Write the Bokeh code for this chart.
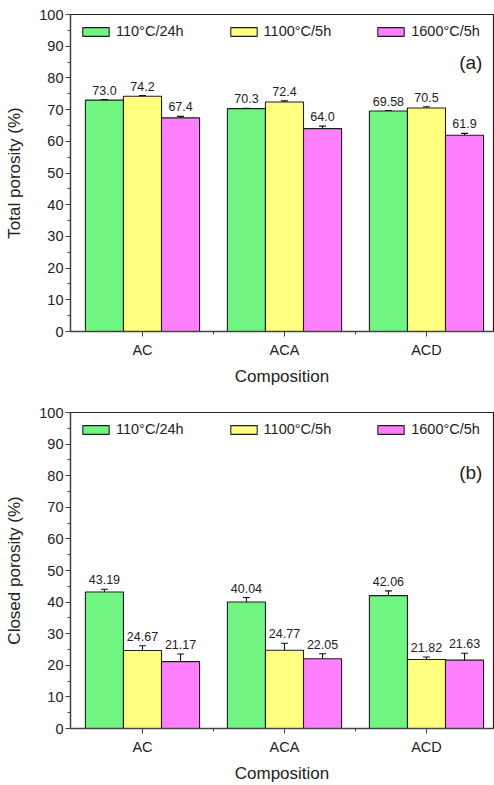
from bokeh.plotting import figure
from bokeh.models import ColumnDataSource, Whisker, TeeHead, FixedTicker, Label, Legend, LegendItem
from bokeh.layouts import column
from bokeh.embed import file_html
from bokeh.resources import INLINE
from bokeh.core.properties import value

categories = ["AC", "ACA", "ACD"]
series = ["110°C/24h", "1100°C/5h", "1600°C/5h"]
colors = ["#70F582", "#FFFF80", "#FF80FF"]

total_110 = [73.0, 70.3, 69.58]
total_1100 = [74.2, 72.4, 70.5]
total_1600 = [67.4, 64.0, 61.9]
total_err_110 = [0.15, 0.12, 0.12]
total_err_1100 = [0.2, 0.35, 0.4]
total_err_1600 = [0.45, 0.8, 0.6]

closed_110 = [43.19, 40.04, 42.06]
closed_1100 = [24.67, 24.77, 21.82]
closed_1600 = [21.17, 22.05, 21.63]
closed_err_110 = [0.9, 1.4, 1.5]
closed_err_1100 = [1.5, 2.2, 0.8]
closed_err_1600 = [2.4, 1.6, 2.2]

FONT = "Liberation Sans"
BAR_W = 0.268
OFFSETS = [-BAR_W, 0.0, BAR_W]


def make_fig(ylabel, vals, errs, panel, panel_y, height, btop, bbottom):
    p = figure(width=494, height=height, output_backend="svg", toolbar_location=None,
               x_range=(0.493, 3.472), y_range=(0, 100),
               min_border_left=70, min_border_right=1, min_border_top=btop,
               min_border_bottom=bbottom)
    p.grid.visible = False
    p.outline_line_color = "#222222"
    p.outline_line_width = 1.2
    renderers = []
    xs_cat = [i + 1 for i in range(len(categories))]
    for k in range(3):
        xs = [x + OFFSETS[k] for x in xs_cat]
        src = ColumnDataSource(dict(x=xs, top=vals[k],
                                    upper=[v + e for v, e in zip(vals[k], errs[k])],
                                    lower=[v - e for v, e in zip(vals[k], errs[k])],
                                    lab=[str(v) for v in vals[k]]))
        r = p.vbar(x="x", top="top", width=BAR_W, bottom=0, source=src,
                   fill_color=colors[k], line_color="#1e1e1e", line_width=1.1)
        renderers.append(r)
        w = Whisker(base="x", upper="upper", lower="lower", source=src,
                    line_color="#111111", line_width=1.1,
                    upper_head=TeeHead(size=7, line_color="#111111", line_width=1.1),
                    lower_head=TeeHead(size=7, line_color="#111111", line_width=1.1))
        p.add_layout(w)
        p.text(x="x", y="upper", text="lab", source=src, text_align="center",
               text_baseline="bottom", y_offset=-5, text_font=value(FONT),
               text_font_size="12.5px", text_color="#222222")

    legend = Legend(items=[LegendItem(label=series[k], renderers=[renderers[k]]) for k in range(3)],
                    orientation="horizontal", location="top_left", margin=0, padding=9,
                    spacing=43, glyph_width=33, glyph_height=11, label_height=11,
                    label_standoff=4, label_text_font=FONT, label_text_font_size="14.5px",
                    label_text_color="#222222", border_line_alpha=0,
                    background_fill_alpha=0)
    p.add_layout(legend)

    p.add_layout(Label(x=3.394, y=panel_y, text=panel, text_align="right",
                       text_baseline="middle", text_font=FONT, text_font_size="19px",
                       text_color="#222222"))

    p.xaxis.ticker = FixedTicker(ticks=xs_cat, minor_ticks=[1.5, 2.5])
    p.xaxis.major_label_overrides = {x: c for x, c in zip(xs_cat, categories)}
    p.yaxis.ticker = FixedTicker(ticks=list(range(0, 101, 10)),
                                 minor_ticks=list(range(5, 100, 10)))
    for ax in (p.xaxis, p.yaxis):
        ax.major_label_text_font = FONT
        ax.major_label_text_font_size = "14.5px"
        ax.major_label_text_color = "#222222"
        ax.axis_label_text_font = FONT
        ax.axis_label_text_font_size = "17px"
        ax.axis_label_text_font_style = "normal"
        ax.axis_label_text_color = "#222222"
        ax.axis_line_color = "#444444"
        ax.axis_line_width = 1.3
        ax.major_tick_line_color = "#444444"
        ax.minor_tick_line_color = "#444444"
        ax.major_tick_in = 0
        ax.minor_tick_in = 0
        ax.major_tick_out = 5
        ax.minor_tick_out = 3
    p.xaxis.axis_label = "Composition"
    p.xaxis.major_label_standoff = 5
    p.xaxis.axis_label_standoff = 6
    p.yaxis.axis_label = ylabel
    p.yaxis.major_label_standoff = 2
    p.yaxis.axis_label_standoff = 12
    return p


p1 = make_fig("Total porosity (%)",
              [total_110, total_1100, total_1600],
              [total_err_110, total_err_1100, total_err_1600],
              "(a)", 85, 390, 14, 59)
p2 = make_fig("Closed porosity (%)",
              [closed_110, closed_1100, closed_1600],
              [closed_err_110, closed_err_1100, closed_err_1600],
              "(b)", 81, 395, 22, 57)

layout = column(p1, p2, spacing=0)
open("out.html", "w").write(file_html(layout, INLINE))
